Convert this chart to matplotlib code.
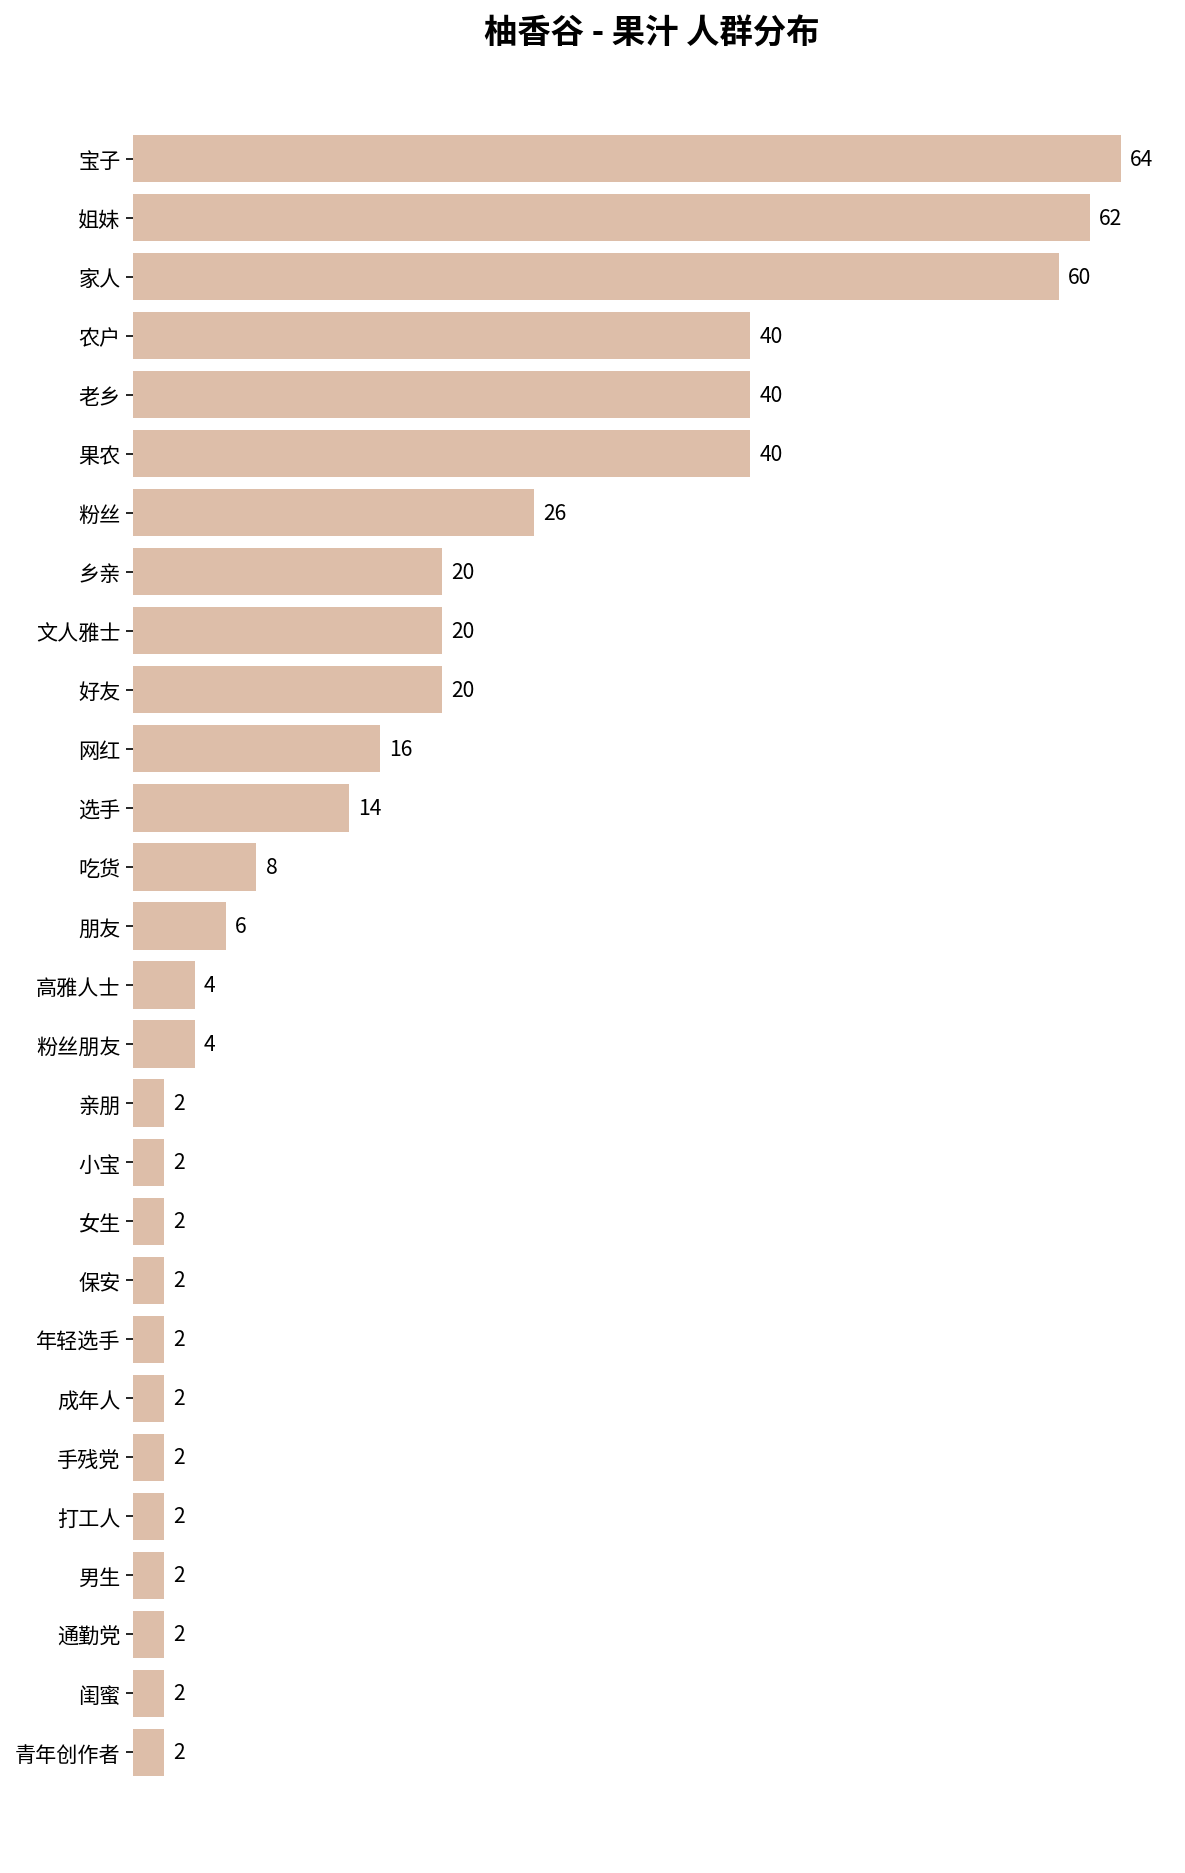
import matplotlib
matplotlib.use("Agg")
import matplotlib.pyplot as plt

plt.rcParams['font.family'] = ['Noto Sans CJK SC', 'DejaVu Sans']

# 人群分布数据
labels = ['宝子', '姐妹', '家人', '农户', '老乡', '果农', '粉丝', '乡亲',
          '文人雅士', '好友', '网红', '选手', '吃货', '朋友', '高雅人士', '粉丝朋友',
          '亲朋', '小宝', '女生', '保安', '年轻选手', '成年人', '手残党', '打工人',
          '男生', '通勤党', '闺蜜', '青年创作者']
counts = [64, 62, 60, 40, 40, 40, 26, 20, 20, 20, 16, 14, 8, 6, 4, 4,
          2, 2, 2, 2, 2, 2, 2, 2, 2, 2, 2, 2]
title = '柚香谷 - 果汁 人群分布'

fig = plt.figure(figsize=(11.85, 18.74), dpi=100)
ax = fig.add_axes([133 / 1185, 1 - 1783 / 1874, (1170 - 133) / 1185, (1783 - 130) / 1874])

y = list(range(len(labels)))
bars = ax.barh(y, counts, height=0.8, color='#ddbea9')
ax.set_ylim(len(labels) - 0.5, -0.5)
ax.set_xlim(0, max(counts) * 1.05)
ax.set_yticks(y)
ax.set_yticklabels(labels, fontsize=15.2)
ax.set_xticks([])
ax.tick_params(axis='y', length=5, width=1.2, pad=4)
for s in ax.spines.values():
    s.set_visible(False)

for b, v in zip(bars, counts):
    ax.text(b.get_width() + 0.6, b.get_y() + b.get_height() / 2, str(v),
            va='center', ha='left', fontsize=15.2)

ax.set_title(title, fontsize=24, fontweight='bold', pad=62)

fig.savefig('out.png', dpi=100)
